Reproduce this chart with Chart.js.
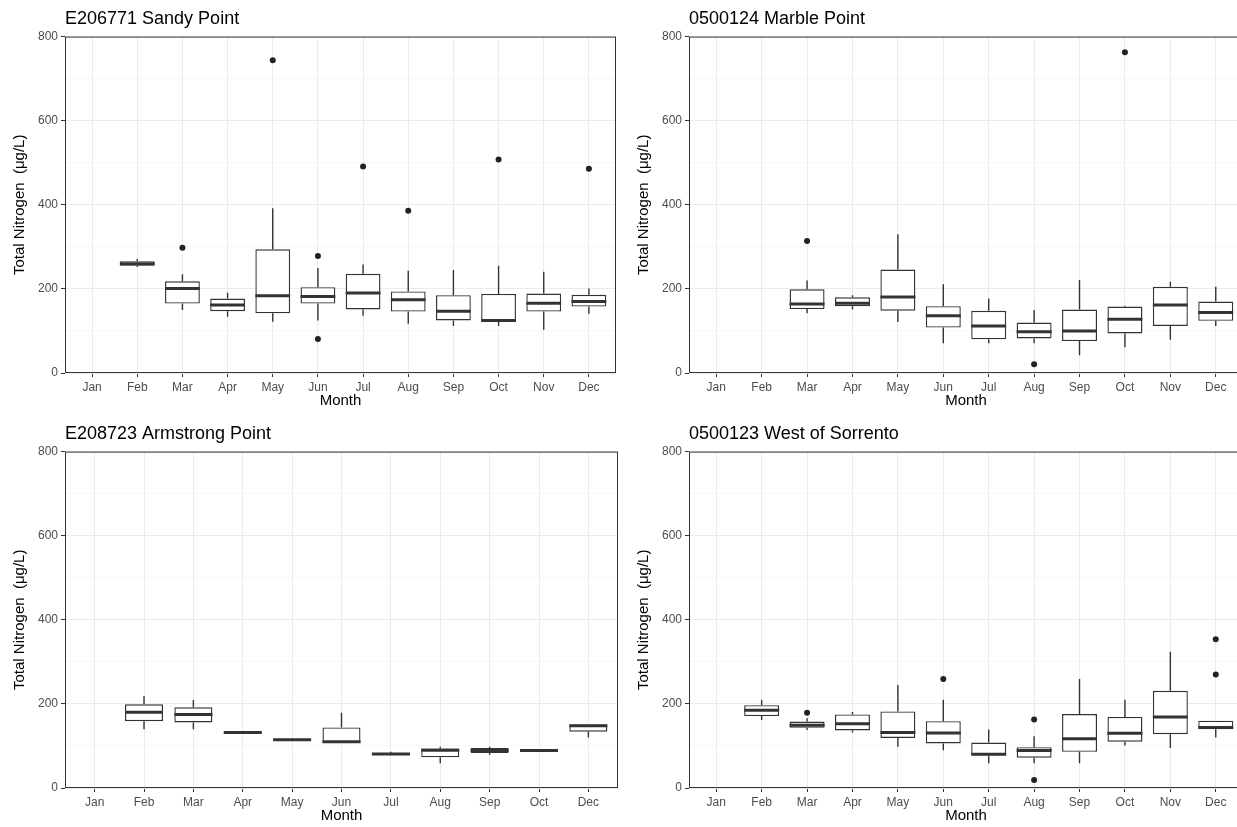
<!DOCTYPE html>
<html>
<head>
<meta charset="utf-8">
<script src="https://cdn.jsdelivr.net/npm/chart.js@4.4.1/dist/chart.umd.min.js"></script>
<style>
  html, body { margin: 0; padding: 0; background: #fff; overflow: hidden; width: 1237px; height: 827px; }
  canvas { position: absolute; }
</style>
</head>
<body>
<canvas id="sandy" width="620" height="410" style="left:0;top:0"></canvas>
<canvas id="marble" width="623" height="410" style="left:624px;top:0"></canvas>
<canvas id="armstrong" width="620" height="410" style="left:0;top:415px"></canvas>
<canvas id="sorrento" width="623" height="410" style="left:624px;top:415px"></canvas>
<script>
const months = ["Jan", "Feb", "Mar", "Apr", "May", "Jun", "Jul", "Aug", "Sep", "Oct", "Nov", "Dec"];
const armMonths = ["Jan", "Feb", "Mar", "Apr", "May", "Jun", "Jul", "Aug", "Sep", "Oct", "Dec"];
const yTicks = [0, 200, 400, 600, 800];

// E206771 Sandy Point
const sandyLo  = [null, 252, 150, 134, 122, 125, 136, 117, 112, 112, 103, 141];
const sandyQ1  = [null, 255, 165, 147, 142, 165, 151, 146, 125, 124, 146, 158];
const sandyMed = [null, 260, 201, 162, 184, 182, 190, 174, 147, 125, 166, 170];
const sandyQ3  = [null, 266, 218, 177, 294, 204, 236, 194, 185, 188, 189, 186];
const sandyHi  = [null, 271, 235, 191, 392, 250, 258, 243, 245, 255, 241, 201];
const sandyOut = [["Mar", 298], ["May", 744], ["Jun", 278], ["Jun", 81], ["Jul", 491], ["Aug", 386], ["Oct", 508], ["Dec", 486]];

// 0500124 Marble Point
const marbleLo  = [null, null, 142, 151, 121, 71, 71, 71, 42, 61, 79, 112];
const marbleQ1  = [null, null, 152, 159, 148, 108, 80, 82, 76, 94, 112, 124];
const marbleMed = [null, null, 164, 166, 181, 136, 112, 98, 100, 128, 162, 144];
const marbleQ3  = [null, null, 199, 180, 246, 159, 148, 120, 151, 158, 205, 170];
const marbleHi  = [null, null, 220, 185, 330, 211, 177, 150, 221, 160, 217, 205];
const marbleOut = [["Mar", 314], ["Aug", 21], ["Oct", 763]];

// E208723 Armstrong Point (no November samples)
const armLo  = [null, 140, 140, 131, 113, 107, 78, 59, 79, 88, 120];
const armQ1  = [null, 159, 156, 131, 114, 107, 79, 73, 83, 89, 134];
const armMed = [null, 180, 175, 132, 115, 110, 81, 90, 89, 89, 148];
const armQ3  = [null, 199, 192, 133, 116, 144, 83, 94, 95, 90, 151];
const armHi  = [null, 219, 209, 134, 117, 179, 86, 98, 98, 91, 151];
const armOut = [];

// 0500123 West of Sorrento
const sorLo  = [null, 162, 138, 132, 98, 90, 59, 59, 59, 101, 95, 120];
const sorQ1  = [null, 171, 143, 137, 119, 106, 78, 72, 86, 110, 128, 140];
const sorMed = [null, 185, 149, 153, 132, 131, 80, 89, 117, 130, 169, 144];
const sorQ3  = [null, 197, 158, 175, 182, 159, 108, 97, 176, 169, 231, 160];
const sorHi  = [null, 210, 166, 181, 245, 210, 139, 123, 259, 210, 324, 160];
const sorOut = [["Mar", 179], ["Jun", 259], ["Aug", 163], ["Aug", 19], ["Dec", 354], ["Dec", 270]];

Chart.defaults.font.family = "'Liberation Sans', Arial, sans-serif";

const ink = "#333333";

// whiskers, medians and the panel frame, all placed through the chart scales
const boxStats = {
  id: "boxStats",
  afterDatasetsDraw(chart) {
    const ds = chart.data.datasets[0];
    const meta = chart.getDatasetMeta(0);
    const x = chart.scales.x, y = chart.scales.y;
    const ctx = chart.ctx;
    ctx.save();
    ctx.strokeStyle = ink;
    ctx.lineCap = "butt";
    ds.lo.forEach((lo, i) => {
      if (lo == null) return;
      const px = x.getPixelForValue(i);
      const w = meta.data[i].width;
      ctx.lineWidth = 1.4;
      ctx.beginPath();
      ctx.moveTo(px, y.getPixelForValue(lo));
      ctx.lineTo(px, y.getPixelForValue(ds.q1[i]));
      ctx.moveTo(px, y.getPixelForValue(ds.q3[i]));
      ctx.lineTo(px, y.getPixelForValue(ds.hi[i]));
      ctx.stroke();
      ctx.lineWidth = 3;
      const my = y.getPixelForValue(ds.med[i]);
      ctx.beginPath();
      ctx.moveTo(px - w / 2, my);
      ctx.lineTo(px + w / 2, my);
      ctx.stroke();
    });
    ctx.restore();
  },
  afterDraw(chart) {
    const a = chart.chartArea;
    const ctx = chart.ctx;
    ctx.save();
    ctx.strokeStyle = ink;
    ctx.lineWidth = 1;
    ctx.strokeRect(a.left + 0.5, a.top + 0.5, a.right - a.left - 1, a.bottom - a.top - 1);
    ctx.restore();
  }
};

function makePanel(id, title, labels, lo, q1, med, q3, hi, outliers) {
  const boxes = labels.map((m, i) => ({ x: i, y: q1[i] == null ? null : [q1[i], q3[i]] }));
  const points = outliers.map(([m, v]) => ({ x: labels.indexOf(m), y: v }));
  return new Chart(document.getElementById(id), {
    type: "bar",
    data: {
      datasets: [
        {
          data: boxes,
          lo: lo, q1: q1, med: med, q3: q3, hi: hi,
          backgroundColor: "#ffffff",
          borderColor: ink,
          borderWidth: 1.4,
          borderSkipped: false,
          barPercentage: 0.77,
          categoryPercentage: 1
        },
        {
          type: "scatter",
          data: points,
          pointRadius: 3,
          pointBackgroundColor: "#222",
          pointBorderWidth: 0
        }
      ]
    },
    options: {
      responsive: false,
      animation: false,
      layout: { padding: { left: 0, right: 2, top: 0, bottom: 0 } },
      plugins: {
        legend: { display: false },
        tooltip: { enabled: false },
        title: {
          display: true,
          text: title,
          align: "start",
          fullSize: false,
          color: "#000",
          font: { size: 18, weight: "normal" },
          padding: { top: 8, bottom: 7 }
        }
      },
      scales: {
        x: {
          type: "linear",
          offset: false,
          min: -0.6,
          max: labels.length - 0.4,
          afterBuildTicks: s => { s.ticks = labels.map((_, i) => ({ value: i })); },
          afterFit: s => { s.height = 37; },
          ticks: {
            callback: v => labels[v],
            color: "#4d4d4d",
            font: { size: 12 },
            padding: 3,
            maxRotation: 0,
            autoSkip: false
          },
          grid: { offset: false, color: "#ebebeb", lineWidth: 1, tickColor: ink, tickLength: 4 },
          border: { display: false },
          title: { display: true, text: "Month", color: "#000", font: { size: 15 }, padding: { top: 0, bottom: 0 } }
        },
        y: {
          min: 0,
          max: 800,
          afterFit: s => { s.width = 65; },
          ticks: {
            stepSize: 100,
            callback: v => yTicks.includes(v) ? v : "",
            color: "#4d4d4d",
            font: { size: 12 },
            padding: 3
          },
          grid: {
            color: c => yTicks.includes(c.tick.value) ? "#ebebeb" : "#f4f4f4",
            lineWidth: c => yTicks.includes(c.tick.value) ? 1 : 0.7,
            tickColor: c => yTicks.includes(c.tick.value) ? ink : "rgba(0,0,0,0)",
            tickLength: 4
          },
          border: { display: false },
          title: { display: true, text: "Total Nitrogen  (\u03bcg/L)", color: "#000", font: { size: 15 }, padding: { top: 11, bottom: 0 } }
        }
      }
    },
    plugins: [boxStats]
  });
}

makePanel("sandy", "E206771 Sandy Point", months, sandyLo, sandyQ1, sandyMed, sandyQ3, sandyHi, sandyOut);
makePanel("marble", "0500124 Marble Point", months, marbleLo, marbleQ1, marbleMed, marbleQ3, marbleHi, marbleOut);
makePanel("armstrong", "E208723 Armstrong Point", armMonths, armLo, armQ1, armMed, armQ3, armHi, armOut);
makePanel("sorrento", "0500123 West of Sorrento", months, sorLo, sorQ1, sorMed, sorQ3, sorHi, sorOut);
</script>
</body>
</html>
